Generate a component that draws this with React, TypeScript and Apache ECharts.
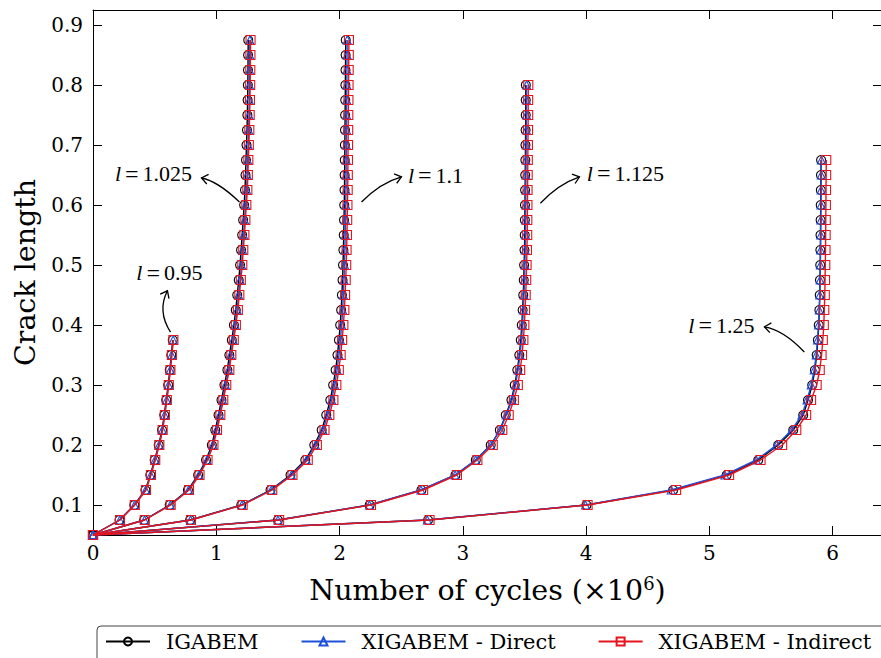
import { useEffect, useRef } from "react";
import * as echarts from "echarts";

// Crack length increments shared by every run (0.05 → 0.875, step 0.025)
const crackLength = [
  0.05, 0.075, 0.1, 0.125, 0.15, 0.175, 0.2, 0.225, 0.25, 0.275, 0.3, 0.325,
  0.35, 0.375, 0.4, 0.425, 0.45, 0.475, 0.5, 0.525, 0.55, 0.575, 0.6, 0.625,
  0.65, 0.675, 0.7, 0.725, 0.75, 0.775, 0.8, 0.825, 0.85, 0.875,
];

// Number of cycles (×10^6), one list per load ratio l and per method
const igabem095 = [0, 0.215, 0.335, 0.425, 0.465, 0.5, 0.533, 0.56, 0.578, 0.594, 0.61, 0.623, 0.635, 0.647];
const direct095 = [0, 0.217, 0.337, 0.427, 0.468, 0.503, 0.536, 0.563, 0.581, 0.597, 0.613, 0.626, 0.638, 0.65];
const indirect095 = [0, 0.219, 0.339, 0.43, 0.47, 0.505, 0.538, 0.565, 0.583, 0.599, 0.615, 0.628, 0.64, 0.652];

const igabem1025 = [0, 0.415, 0.622, 0.77, 0.853, 0.917, 0.964, 0.992, 1.018, 1.042, 1.066, 1.09, 1.106, 1.126, 1.143, 1.158, 1.17, 1.182, 1.193, 1.201, 1.21, 1.218, 1.226, 1.233, 1.237, 1.241, 1.245, 1.249, 1.252, 1.254, 1.256, 1.257, 1.258, 1.259];
const direct1025 = [0, 0.418, 0.627, 0.775, 0.859, 0.924, 0.972, 1.0, 1.027, 1.051, 1.075, 1.1, 1.116, 1.136, 1.153, 1.169, 1.181, 1.193, 1.205, 1.213, 1.222, 1.23, 1.238, 1.246, 1.25, 1.254, 1.258, 1.262, 1.265, 1.267, 1.269, 1.27, 1.271, 1.272];
const indirect1025 = [0, 0.42, 0.63, 0.779, 0.864, 0.929, 0.977, 1.006, 1.033, 1.057, 1.081, 1.106, 1.122, 1.142, 1.159, 1.175, 1.187, 1.199, 1.211, 1.219, 1.228, 1.236, 1.244, 1.252, 1.256, 1.26, 1.264, 1.268, 1.271, 1.273, 1.275, 1.276, 1.277, 1.278];

const igabem11 = [0, 0.788, 1.203, 1.44, 1.602, 1.722, 1.795, 1.855, 1.892, 1.925, 1.948, 1.968, 1.983, 1.995, 2.005, 2.013, 2.019, 2.024, 2.028, 2.031, 2.034, 2.036, 2.038, 2.04, 2.041, 2.042, 2.043, 2.044, 2.045, 2.046, 2.047, 2.048, 2.049, 2.05];
const direct11 = [0, 0.791, 1.208, 1.446, 1.609, 1.731, 1.804, 1.865, 1.903, 1.936, 1.96, 1.98, 1.995, 2.007, 2.017, 2.025, 2.031, 2.036, 2.04, 2.043, 2.046, 2.048, 2.05, 2.052, 2.053, 2.054, 2.055, 2.056, 2.057, 2.058, 2.059, 2.06, 2.061, 2.062];
const indirect11 = [0, 0.795, 1.214, 1.454, 1.618, 1.742, 1.816, 1.878, 1.917, 1.95, 1.974, 1.994, 2.009, 2.021, 2.031, 2.039, 2.045, 2.05, 2.054, 2.057, 2.06, 2.062, 2.064, 2.066, 2.067, 2.068, 2.069, 2.07, 2.071, 2.072, 2.073, 2.074, 2.075, 2.076];

const igabem1125 = [0, 1.5, 2.244, 2.664, 2.94, 3.105, 3.226, 3.3, 3.348, 3.394, 3.421, 3.442, 3.458, 3.47, 3.478, 3.485, 3.49, 3.494, 3.497, 3.5, 3.502, 3.503, 3.504, 3.505, 3.506, 3.507, 3.508, 3.509, 3.51, 3.51, 3.511];
const direct1125 = [0, 1.5, 2.242, 2.66, 2.937, 3.104, 3.227, 3.303, 3.352, 3.399, 3.427, 3.448, 3.464, 3.476, 3.484, 3.491, 3.496, 3.5, 3.503, 3.506, 3.508, 3.509, 3.51, 3.511, 3.512, 3.513, 3.514, 3.515, 3.516, 3.516, 3.517];
const indirect1125 = [0, 1.51, 2.255, 2.678, 2.952, 3.118, 3.243, 3.32, 3.372, 3.414, 3.446, 3.465, 3.48, 3.491, 3.499, 3.505, 3.51, 3.514, 3.517, 3.52, 3.522, 3.523, 3.524, 3.525, 3.526, 3.527, 3.528, 3.529, 3.53, 3.53, 3.531];

const igabem125 = [0, 2.718, 4.003, 4.706, 5.14, 5.396, 5.558, 5.68, 5.761, 5.8, 5.834, 5.856, 5.87, 5.88, 5.887, 5.892, 5.895, 5.897, 5.899, 5.9, 5.901, 5.902, 5.903, 5.904, 5.905, 5.906];
const direct125 = [0, 2.712, 3.995, 4.69, 5.125, 5.38, 5.545, 5.668, 5.75, 5.792, 5.826, 5.85, 5.866, 5.877, 5.885, 5.891, 5.895, 5.898, 5.9, 5.902, 5.903, 5.904, 5.905, 5.906, 5.907, 5.908];
const indirect125 = [0, 2.73, 4.012, 4.73, 5.16, 5.415, 5.59, 5.705, 5.785, 5.825, 5.87, 5.895, 5.91, 5.92, 5.928, 5.932, 5.936, 5.938, 5.94, 5.942, 5.943, 5.944, 5.945, 5.946, 5.947, 5.948];

const xTickValues = [0, 1, 2, 3, 4, 5, 6];
const yTickValues = [0.1, 0.2, 0.3, 0.4, 0.5, 0.6, 0.7, 0.8, 0.9];

const methodNames = ["IGABEM", "XIGABEM - Direct", "XIGABEM - Indirect"];

// Load-ratio labels with their curved arrows, in data coordinates
const annotations = [
  { text: "1.025", at: [0.491, 0.6525], from: [1.188, 0.605], ctrl: [1.01, 0.64], to: [0.88, 0.645] },
  { text: "1.1", at: [2.778, 0.65], from: [2.178, 0.605], ctrl: [2.33, 0.637], to: [2.502, 0.647] },
  { text: "1.125", at: [4.319, 0.653], from: [3.629, 0.603], ctrl: [3.775, 0.635], to: [3.946, 0.647] },
  { text: "0.95", at: [0.62, 0.487], from: [0.629, 0.388], ctrl: [0.519, 0.423], to: [0.604, 0.457] },
  { text: "1.25", at: [5.097, 0.4], from: [5.77, 0.355], ctrl: [5.6, 0.392], to: [5.446, 0.397] },
];

const BLACK = "#000000";
const BLUE = "#1e50dc";
const RED = "#e6141e";
const SERIF = "DejaVu Serif";
const MATH = "Liberation Serif";

const methods = [
  { name: methodNames[0], color: BLACK, symbol: "circle", size: 9, runs: [igabem095, igabem1025, igabem11, igabem1125, igabem125] },
  { name: methodNames[1], color: BLUE, symbol: "triangle", size: 8, runs: [direct095, direct1025, direct11, direct1125, direct125] },
  { name: methodNames[2], color: RED, symbol: "rect", size: 9, runs: [indirect095, indirect1025, indirect11, indirect1125, indirect125] },
];

function buildSeries() {
  const out: any[] = [];
  methods.forEach((m, mi) => {
    m.runs.forEach((cycles) => {
      out.push({
        type: "line",
        name: m.name,
        data: cycles.map((c, i) => [c, crackLength[i]]),
        symbol: m.symbol,
        symbolSize: m.size,
        showSymbol: true,
        showAllSymbol: true,
        clip: false,
        silent: true,
        z: 2 + mi,
        lineStyle: { color: m.color, width: 1.4 },
        itemStyle: { color: "rgba(0,0,0,0)", borderColor: m.color, borderWidth: 1.1 },
        emphasis: { disabled: true },
      });
    });
  });
  return out;
}

function axisCommon(min: number, max: number, ticks: number[], position: string, showLabels: boolean, fmt?: (v: number) => string) {
  return {
    type: "value",
    min,
    max,
    position,
    axisLine: { show: true, onZero: false, lineStyle: { color: BLACK, width: 1 } },
    axisTick: { show: true, inside: true, length: 9, customValues: ticks, lineStyle: { color: BLACK, width: 1 } },
    axisLabel: {
      show: showLabels,
      customValues: ticks,
      fontFamily: SERIF,
      fontSize: 20,
      color: BLACK,
      margin: 10,
      formatter: fmt,
    },
    splitLine: { show: false },
  };
}

export default function App() {
  const ref = useRef<HTMLDivElement>(null);

  useEffect(() => {
    if (!ref.current) return;
    const chart = echarts.init(ref.current, null, { renderer: "svg" });

    const xBottom: any = axisCommon(0, 6.4, xTickValues, "bottom", true, (v: number) => String(v));
    xBottom.axisLabel.margin = 8;
    xBottom.name = "Number of cycles (×10{sup|6})";
    xBottom.nameLocation = "middle";
    xBottom.nameGap = 39;
    xBottom.nameTextStyle = {
      fontFamily: SERIF,
      fontSize: 28.5,
      color: BLACK,
      rich: { sup: { fontFamily: SERIF, fontSize: 18, color: BLACK, verticalAlign: "top", lineHeight: 32 } },
    };
    const xTop: any = axisCommon(0, 6.4, xTickValues, "top", false);

    const yLeft: any = axisCommon(0.05, 0.925, yTickValues, "left", true, (v: number) => v.toFixed(1));
    yLeft.name = "Crack length";
    yLeft.nameLocation = "middle";
    yLeft.nameGap = 46;
    yLeft.nameTextStyle = { fontFamily: SERIF, fontSize: 28.5, color: BLACK };
    const yRight: any = axisCommon(0.05, 0.925, yTickValues, "right", false);

    chart.setOption({
      animation: false,
      backgroundColor: "#ffffff",
      grid: { left: 93, top: 10, width: 789, height: 525, containLabel: false, outerBoundsMode: "none" },
      xAxis: [xBottom, xTop],
      yAxis: [yLeft, yRight],
      legend: {
        data: methodNames,
        left: 97,
        top: 626,
        orient: "horizontal",
        padding: [5, 14, 16, 8],
        itemWidth: 44,
        itemHeight: 10,
        itemGap: 42,
        borderColor: "#444",
        borderWidth: 1,
        borderRadius: 4,
        backgroundColor: "#ffffff",
        selectedMode: false,
        textStyle: { fontFamily: SERIF, fontSize: 21, color: BLACK, padding: [0, 0, 0, 11] },
      },
      series: buildSeries(),
    });

    // Place the l-labels and their curved arrows using the axes' own scales
    const px = (p: number[]) => chart.convertToPixel({ xAxisIndex: 0, yAxisIndex: 0 }, p) as number[];
    const graphics: any[] = [];
    annotations.forEach((a) => {
      const c = px(a.at);
      const s = px(a.from);
      const k = px(a.ctrl);
      const e = px(a.to);
      graphics.push({
        type: "text",
        x: c[0],
        y: c[1],
        silent: true,
        style: {
          text: `{v|l}{eq|=}{n|${a.text}}`,
          align: "center",
          verticalAlign: "middle",
          rich: {
            v: { fontFamily: MATH, fontStyle: "italic", fontSize: 22, fill: BLACK },
            eq: { fontFamily: MATH, fontSize: 24, fill: BLACK, padding: [0, 4, 0, 4] },
            n: { fontFamily: MATH, fontSize: 22, fill: BLACK },
          },
        },
      });
      graphics.push({
        type: "bezierCurve",
        silent: true,
        shape: { x1: s[0], y1: s[1], cpx1: k[0], cpy1: k[1], x2: e[0], y2: e[1] },
        style: { stroke: BLACK, lineWidth: 1.3, fill: "none" },
      });
      const dx = e[0] - k[0];
      const dy = e[1] - k[1];
      const len = Math.hypot(dx, dy) || 1;
      const ux = dx / len;
      const uy = dy / len;
      const barb = 8;
      const ang = (38 * Math.PI) / 180;
      const rot = (t: number) => [ux * Math.cos(t) - uy * Math.sin(t), ux * Math.sin(t) + uy * Math.cos(t)];
      const r1 = rot(ang);
      const r2 = rot(-ang);
      graphics.push({
        type: "polyline",
        silent: true,
        shape: {
          points: [
            [e[0] - barb * r1[0], e[1] - barb * r1[1]],
            [e[0], e[1]],
            [e[0] - barb * r2[0], e[1] - barb * r2[1]],
          ],
        },
        style: { stroke: BLACK, lineWidth: 1.3, fill: "none" },
      });
    });
    chart.setOption({ graphic: graphics });

    return () => chart.dispose();
  }, []);

  return (
    <div
      ref={ref}
      style={{ position: "fixed", left: 0, top: 0, width: 960, height: 700, background: "#ffffff" }}
    />
  );
}
